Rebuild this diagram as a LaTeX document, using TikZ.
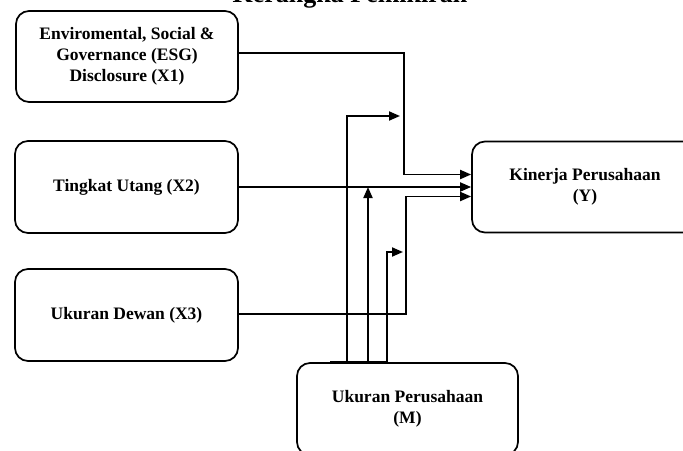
\documentclass[tikz,border=0pt]{standalone}
\usepackage{fontspec}
\setmainfont{Liberation Serif}
\usetikzlibrary{arrows.meta}
\begin{document}
\begin{tikzpicture}[x=1pt,y=-1pt,
  box/.style={draw, line width=1.7pt, rounded corners=13pt, align=center,
    font=\bfseries\fontsize{17.5}{21}\selectfont, inner sep=0pt},
  conn/.style={line width=1.9pt},
  arr/.style={conn, -{Triangle[length=11pt,width=9pt]}}]
\useasboundingbox (0,0) rectangle (683,450);
\clip (0,0) rectangle (683,450);
\node[anchor=base, font=\bfseries\fontsize{26}{30}\selectfont] (title) at (350,2.5) {Kerangka Pemikiran};
\node[box, minimum width=222pt, minimum height=91pt] (x1) at (127,56.5) {Enviromental, Social \&\\Governance (ESG)\\Disclosure (X1)};
\node[box, minimum width=223pt, minimum height=92pt] (x2) at (126.5,187) {Tingkat Utang (X2)};
\node[box, minimum width=223pt, minimum height=92pt] (x3) at (126.5,315) {Ukuran Dewan (X3)};
\node[box, minimum width=226pt, minimum height=91pt] (y) at (585,187) {Kinerja Perusahaan\\(Y)};
\node[box, minimum width=221pt, minimum height=92pt] (m) at (407.5,409) {Ukuran Perusahaan\\(M)};
% junction points
\coordinate (c1) at (404,53);
\coordinate (c3) at (406,314);
\coordinate (m1) at (347,116);
\coordinate (m2) at (368,187);
\coordinate (m3) at (387,252);
% independent variables to Y
\draw[arr] ([yshift=3.5pt]x1.east) -- (c1) |- ([yshift=12.5pt]y.west);
\draw[arr] (x2.east) -- (y.west);
\draw[arr] ([yshift=1pt]x3.east) -- (c3) |- ([yshift=-9.5pt]y.west);
% moderator lines
\draw[arr] (m.north -| m1) -- (m1) -- (400,116);
\draw[arr] (m.north -| m2) -- (m2);
\draw[arr] (m.north -| m3) -- (m3) -- (403,252);
\draw[conn] (m.north -| 330,0) -- (m.north -| 388,0);
\end{tikzpicture}
\end{document}
